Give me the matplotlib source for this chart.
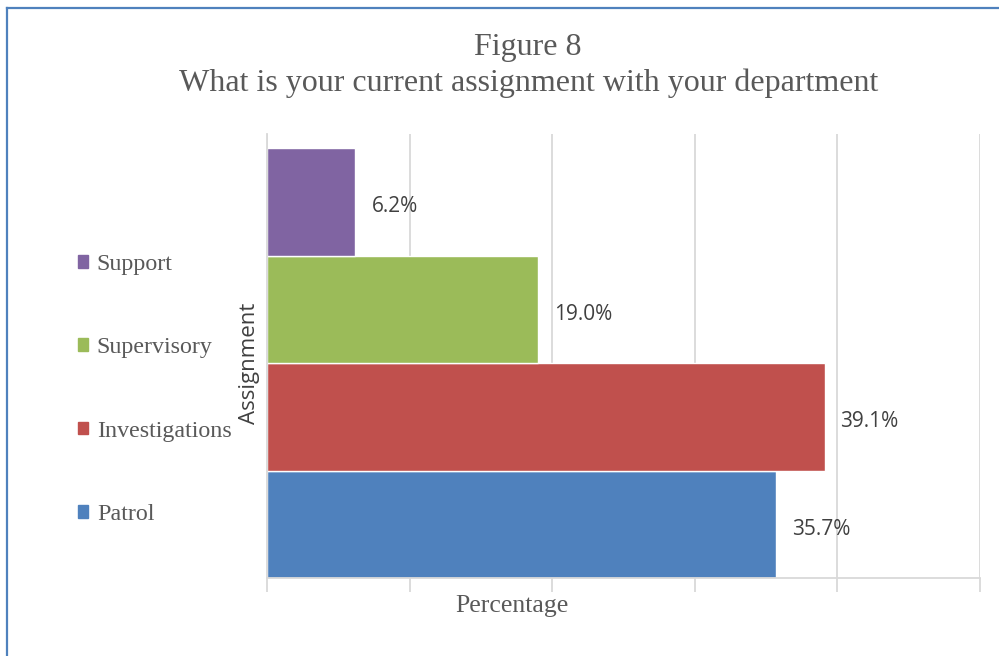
#!/usr/bin/env python3
"""Figure 8 - current assignment with department (horizontal bars, Excel look)"""
import matplotlib
matplotlib.use('Agg')
import matplotlib.pyplot as plt
from matplotlib.lines import Line2D

serif = 'Liberation Serif'
sans = 'Open Sans'
txt = '#595959'
grid_c = '#D9D9D9'

# data (bottom -> top)
categories = ['Patrol', 'Investigations', 'Supervisory', 'Support']
values = [35.7, 39.1, 19.0, 6.2]
colors = ['#4F81BD', '#C0504D', '#9BBB59', '#8064A2']
x_ticks = [0, 10, 20, 30, 40, 50]

W, H = 999, 656
fig = plt.figure(figsize=(W / 100, H / 100), dpi=100)
fig.patch.set_facecolor('white')

# axes box in pixels
ax_l, ax_r, ax_t, ax_b = 267, 980, 134, 578
ax = fig.add_axes([ax_l / W, 1 - ax_b / H, (ax_r - ax_l) / W, (ax_b - ax_t) / H])

bars = ax.barh(range(len(categories)), values, height=1.0, color=colors,
               edgecolor='white', linewidth=1.0)

for i, v in enumerate(values):
    ax.annotate(f'{v:.1f}%', (v, i), xytext=(11.5, -3.5), textcoords='offset points',
                ha='left', va='center', fontsize=15, family=sans, color='#404040')

ax.set_xlim(x_ticks[0], x_ticks[-1])
ax.set_ylim(-0.5, 3.5 + 14 / 107.5)
ax.set_xticks(x_ticks)
ax.set_xticklabels([])
ax.set_yticks([])
ax.grid(axis='x', color=grid_c, lw=1.3)
ax.set_axisbelow(True)
ax.tick_params(axis='x', length=10, width=1.3, color=grid_c, direction='out')
for s in ['top', 'right']:
    ax.spines[s].set_visible(False)
for s in ['left', 'bottom']:
    ax.spines[s].set_color(grid_c)
    ax.spines[s].set_linewidth(1.3)

# legend on the left, Support on top
handles = [plt.Rectangle((0, 0), 1, 1, color=c) for c in colors][::-1]
leg = fig.legend(handles, categories[::-1], loc='upper left',
                 bbox_to_anchor=(56 / W, 1 - 232 / H), frameon=False,
                 prop={'family': serif, 'size': 17.3}, labelcolor=txt,
                 handlelength=0.45, handleheight=0.45, handletextpad=0.35,
                 labelspacing=2.6)

# titles and axis labels
fig.text(528 / W, 1 - 47 / H, 'Figure 8', ha='center', va='center',
         fontsize=23, family=serif, color=txt)
fig.text(529 / W, 1 - 83 / H, 'What is your current assignment with your department',
         ha='center', va='center', fontsize=23, family=serif, color=txt)
fig.text(512 / W, 1 - 606 / H, 'Percentage', ha='center', va='center',
         fontsize=18.5, family=serif, color=txt)
fig.text(250 / W, 1 - 363 / H, 'Assignment', ha='center', va='center', rotation=90,
         fontsize=16, family=sans, color='#404040')

# blue frame (left + top edge)
bc = '#4F81BD'
fig.add_artist(Line2D([7 / W, 7 / W], [0, 1 - 8 / H], color=bc, lw=1.6,
                      transform=fig.transFigure))
fig.add_artist(Line2D([7 / W, 1], [1 - 8 / H, 1 - 8 / H], color=bc, lw=1.6,
                      transform=fig.transFigure))

fig.savefig('out.png', dpi=100, facecolor='white')
